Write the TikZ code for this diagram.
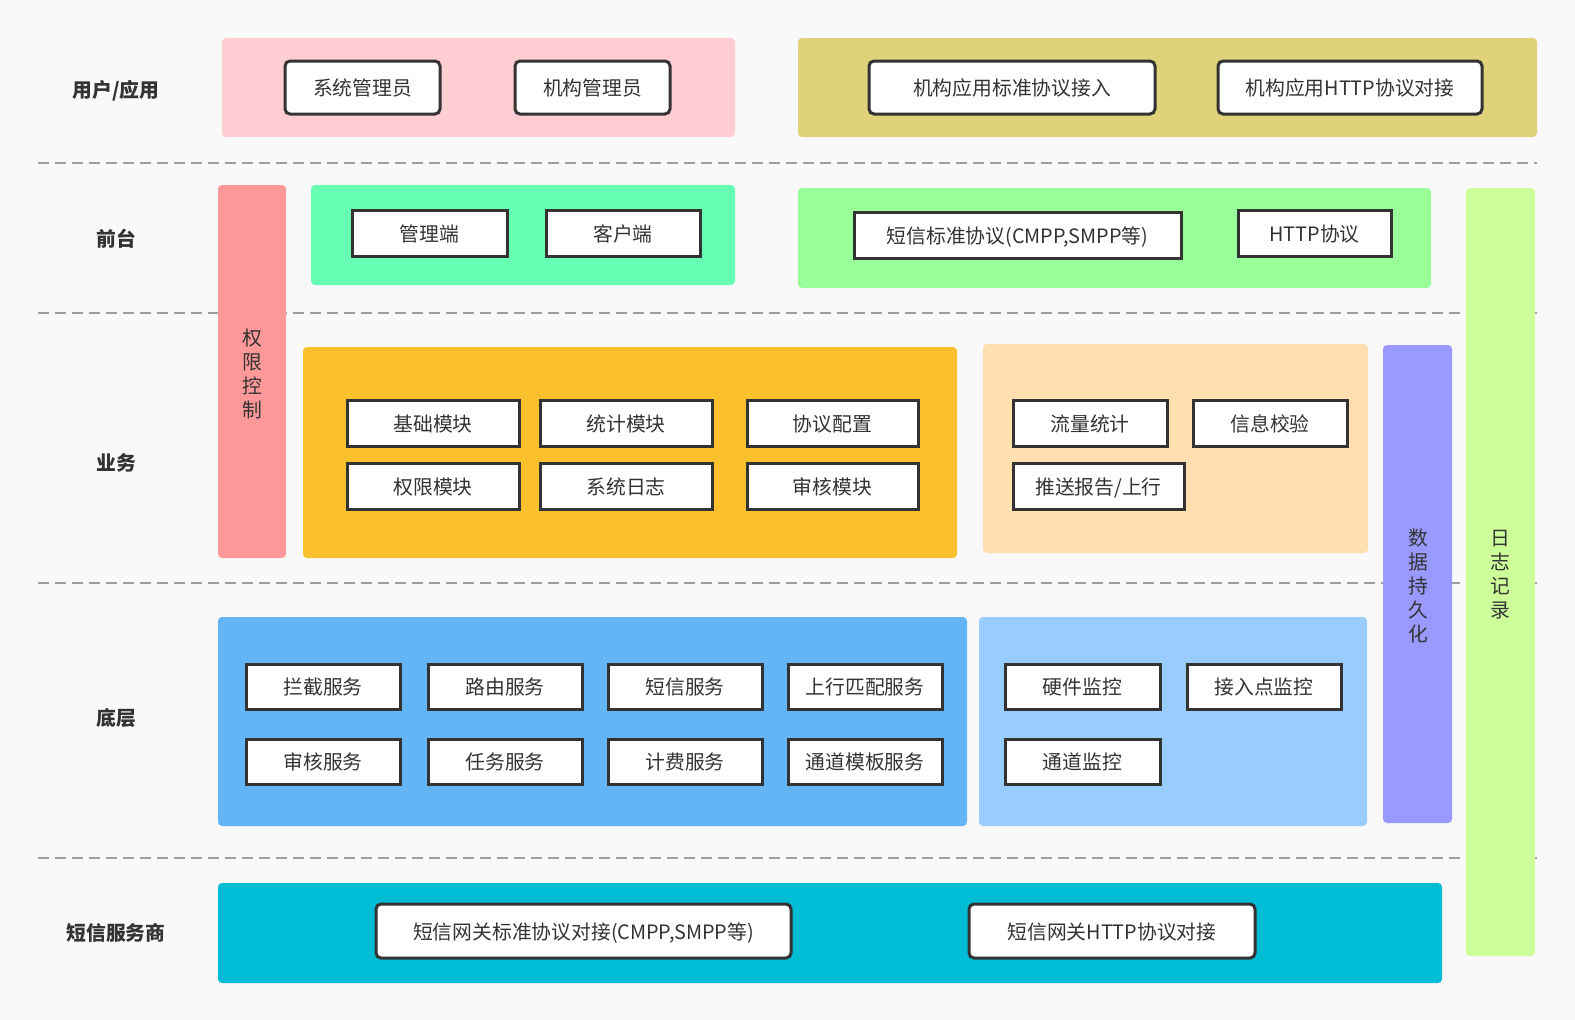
\documentclass[tikz,border=0pt]{standalone}
\usepackage{fontspec}
\usepackage{xcolor}
\newfontfamily\cjk{Noto Sans CJK SC}
\definecolor{bg}{HTML}{F9F9F9}
\definecolor{ink}{HTML}{333333}
\definecolor{sep}{HTML}{9E9E9E}
\definecolor{userpink}{HTML}{FFCDD2}
\definecolor{appolive}{HTML}{DFD27A}
\definecolor{authred}{HTML}{FF9999}
\definecolor{frontgreen}{HTML}{66FFB3}
\definecolor{protogreen}{HTML}{99FF99}
\definecolor{loglime}{HTML}{CCFF99}
\definecolor{bizorange}{HTML}{FBC02D}
\definecolor{bizpeach}{HTML}{FFDFB0}
\definecolor{datapurple}{HTML}{9999FF}
\definecolor{baseblue}{HTML}{64B5F6}
\definecolor{monblue}{HTML}{99CCFF}
\definecolor{smscyan}{HTML}{00BCD4}

\begin{document}
\begin{tikzpicture}[x=1pt,y=-1pt,
  every node/.style={font=\cjk\fontsize{19.8}{24}\selectfont,text=ink},
  item/.style={draw=ink,line width=3pt,fill=white,inner sep=0pt,text depth=0pt},
  roundItem/.style={item,rounded corners=5pt},
  layer/.style={font=\cjk\bfseries\fontsize{19.8}{24}\selectfont},
  band/.style={rounded corners=4pt},
  sepline/.style={draw=sep,line width=2pt,dash pattern=on 11pt off 6pt}]
\fill[bg] (0,0) rectangle (1575,1020);
\useasboundingbox (0,0) rectangle (1575,1020);
\draw[sepline] (38,163) -- (1537,163);
\draw[sepline] (38,313) -- (1537,313);
\draw[sepline] (38,583) -- (1537,583);
\draw[sepline] (38,858) -- (1537,858);
\node[layer] (lUser) at (116,91) {用户/应用};
\node[layer] (lFront) at (116,239) {前台};
\node[layer] (lBiz) at (116,463) {业务};
\node[layer] (lBase) at (116,718) {底层};
\node[layer] (lSms) at (116,933) {短信服务商};
\fill[userpink,band] (222,38) rectangle (735,137);
\fill[appolive,band] (798,38) rectangle (1537,137);
\node[roundItem,minimum width=155pt,minimum height=53pt] (sysAdmin) at (362.5,87.5) {系统管理员};
\node[roundItem,minimum width=155pt,minimum height=53pt] (orgAdmin) at (592.5,87.5) {机构管理员};
\node[roundItem,minimum width=286pt,minimum height=53pt] (orgStd) at (1012,87.5) {机构应用标准协议接入};
\node[roundItem,minimum width=264pt,minimum height=53pt] (orgHttp) at (1350,87.5) {机构应用HTTP协议对接};
\fill[authred,band] (218,185) rectangle (286,558);
\node[align=center] (auth) at (252,374) {权\\限\\控\\制};
\fill[frontgreen,band] (311,185) rectangle (735,285);
\fill[protogreen,band] (798,188) rectangle (1431,288);
\fill[loglime,band] (1466,188) rectangle (1535,956);
\node[align=center] (logRec) at (1500,575) {日\\志\\记\\录};
\node[item,minimum width=155pt,minimum height=46pt] (mgrEnd) at (429.5,233) {管理端};
\node[item,minimum width=154pt,minimum height=46pt] (cliEnd) at (623,233) {客户端};
\node[item,minimum width=327pt,minimum height=46pt] (smsStd) at (1017.5,235) {短信标准协议(CMPP,SMPP等)};
\node[item,minimum width=153pt,minimum height=46pt] (httpProto) at (1314.5,233) {HTTP协议};
\fill[bizorange,band] (303,347) rectangle (957,558);
\fill[bizpeach,band] (983,344) rectangle (1368,553);
\fill[datapurple,band] (1383,345) rectangle (1452,823);
\node[align=center] (persist) at (1418,586) {数\\据\\持\\久\\化};
\node[item,minimum width=172pt,minimum height=46pt] (basicMod) at (433,423) {基础模块};
\node[item,minimum width=172pt,minimum height=46pt] (statMod) at (626,423) {统计模块};
\node[item,minimum width=171pt,minimum height=46pt] (protoCfg) at (832.5,423) {协议配置};
\node[item,minimum width=172pt,minimum height=46pt] (permMod) at (433,486) {权限模块};
\node[item,minimum width=172pt,minimum height=46pt] (sysLog) at (626,486) {系统日志};
\node[item,minimum width=171pt,minimum height=46pt] (auditMod) at (832.5,486) {审核模块};
\node[item,minimum width=154pt,minimum height=46pt] (flowStat) at (1090,423) {流量统计};
\node[item,minimum width=154pt,minimum height=46pt] (msgCheck) at (1270,423) {信息校验};
\node[item,minimum width=171pt,minimum height=46pt] (pushRpt) at (1098.5,486) {推送报告/上行};
\fill[baseblue,band] (218,617) rectangle (967,826);
\fill[monblue,band] (979,617) rectangle (1367,826);
\node[item,minimum width=154pt,minimum height=45pt] (blockSvc) at (323,686.5) {拦截服务};
\node[item,minimum width=154pt,minimum height=45pt] (routeSvc) at (505,686.5) {路由服务};
\node[item,minimum width=154pt,minimum height=45pt] (smsSvc) at (685,686.5) {短信服务};
\node[item,minimum width=154pt,minimum height=45pt] (moSvc) at (865,686.5) {上行匹配服务};
\node[item,minimum width=154pt,minimum height=45pt] (auditSvc) at (323,761.5) {审核服务};
\node[item,minimum width=154pt,minimum height=45pt] (taskSvc) at (505,761.5) {任务服务};
\node[item,minimum width=154pt,minimum height=45pt] (billSvc) at (685,761.5) {计费服务};
\node[item,minimum width=154pt,minimum height=45pt] (tplSvc) at (865,761.5) {通道模板服务};
\node[item,minimum width=155pt,minimum height=45pt] (hwMon) at (1082.5,686.5) {硬件监控};
\node[item,minimum width=154pt,minimum height=45pt] (apMon) at (1264,686.5) {接入点监控};
\node[item,minimum width=155pt,minimum height=45pt] (chMon) at (1082.5,761.5) {通道监控};
\fill[smscyan,band] (218,883) rectangle (1442,983);
\node[roundItem,minimum width=415pt,minimum height=54pt] (gwStd) at (583.5,931) {短信网关标准协议对接(CMPP,SMPP等)};
\node[roundItem,minimum width=286pt,minimum height=54pt] (gwHttp) at (1112,931) {短信网关HTTP协议对接};
\end{tikzpicture}
\end{document}
